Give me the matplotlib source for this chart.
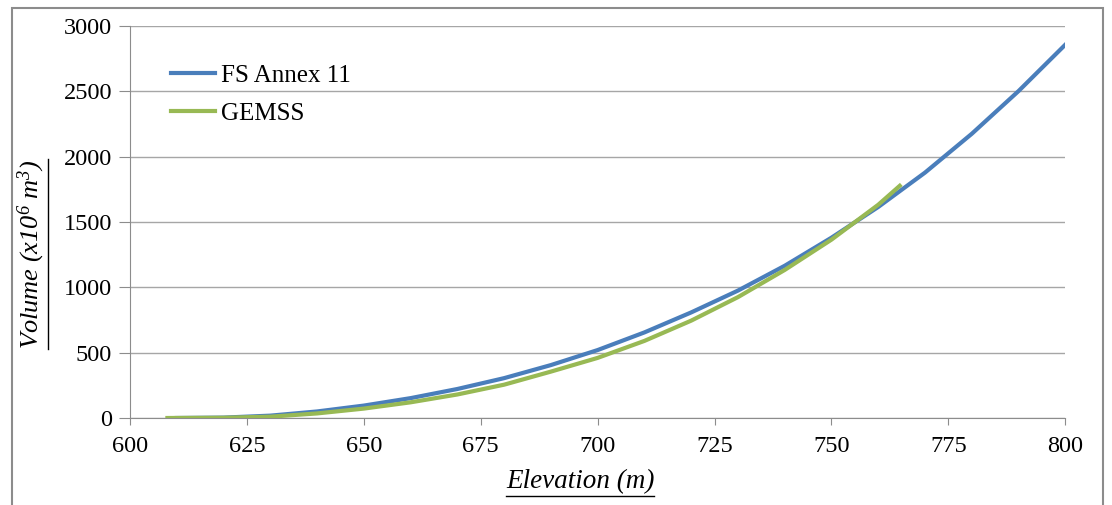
import matplotlib
matplotlib.use("Agg")
import matplotlib.pyplot as plt
from matplotlib.lines import Line2D
from matplotlib.patches import Rectangle

plt.rcParams["font.family"] = ["Liberation Serif", "DejaVu Serif"]
plt.rcParams["mathtext.fontset"] = "custom"
plt.rcParams["mathtext.rm"] = "Liberation Serif:italic"
plt.rcParams["mathtext.it"] = "Liberation Serif:italic"

# values
fs_elev = [610, 620, 630, 640, 650, 660, 670, 680, 690, 700, 710, 720,
           730, 740, 750, 760, 770, 780, 790, 800]
fs_vol = [0, 3, 18, 50, 95, 152, 222, 305, 405, 520, 655, 808,
          975, 1165, 1380, 1615, 1878, 2175, 2502, 2857]

gemss_elev = [608, 620, 630, 640, 650, 660, 670, 680, 690, 700, 710, 720,
              730, 740, 750, 760, 764.6]
gemss_vol = [0, 2, 10, 35, 72, 120, 180, 255, 355, 460, 590, 745,
             925, 1133, 1365, 1632, 1777]

x_ticks = [600, 625, 650, 675, 700, 725, 750, 775, 800]
y_ticks = [0, 500, 1000, 1500, 2000, 2500, 3000]

grey = "#8c8c8c"

fig = plt.figure(figsize=(11.12, 5.05), dpi=100)
ax = fig.add_axes([130 / 1112, 87 / 505, 935.3 / 1112, 392 / 505])

ax.plot(fs_elev, fs_vol, color="#4a7ebb", lw=3, label="FS Annex 11", zorder=3)
ax.plot(gemss_elev, gemss_vol, color="#98b954", lw=3, label="GEMSS", zorder=4)

ax.set_xlim(600, 800)
ax.set_ylim(0, 3000)
ax.set_xticks(x_ticks)
ax.set_yticks(y_ticks)
ax.tick_params(labelsize=17.5, colors=grey, labelcolor="black")
ax.tick_params(axis="x", length=5, pad=8)
ax.tick_params(axis="y", length=8, pad=5)
ax.grid(axis="y", color="#a6a6a6", lw=1)
ax.set_axisbelow(True)
for s in ["top", "right"]:
    ax.spines[s].set_visible(False)
for s in ["left", "bottom"]:
    ax.spines[s].set_color(grey)

leg = ax.legend(loc="upper left", bbox_to_anchor=(0.0335, 0.927), frameon=False,
                fontsize=18, handlelength=1.75, handletextpad=0.25,
                labelspacing=0.6, borderaxespad=0)

xl = fig.text(580 / 1112, 1 - 482 / 505, "Elevation (m)", fontsize=19.5,
              style="italic", ha="center", va="center")
yl = fig.text(31 / 1112, 1 - 254 / 505, r"Volume (x10$^{6}$ m$^{3}$)",
              fontsize=19, style="italic", rotation=90, ha="center", va="center")

# outer frame of the chart area
fig.add_artist(Rectangle((12 / 1112, -0.02), 1091 / 1112, 1.02 - 8 / 505,
                         transform=fig.transFigure, fill=False,
                         edgecolor="#8c8c8c", lw=1.5))

# underline the axis titles
fig.canvas.draw()
r = fig.canvas.get_renderer()
inv = fig.transFigure.inverted()
b = xl.get_window_extent(r)
p0 = inv.transform((b.x0, b.y0 - 1))
p1 = inv.transform((b.x1, b.y0 - 1))
fig.add_artist(Line2D([p0[0], p1[0]], [p0[1], p1[1]], color="black", lw=1))
b = yl.get_window_extent(r)
p0 = inv.transform((b.x1 + 1, b.y0))
p1 = inv.transform((b.x1 + 1, b.y1))
fig.add_artist(Line2D([p0[0], p1[0]], [p0[1], p1[1]], color="black", lw=1))

fig.savefig("out.png", dpi=100)
